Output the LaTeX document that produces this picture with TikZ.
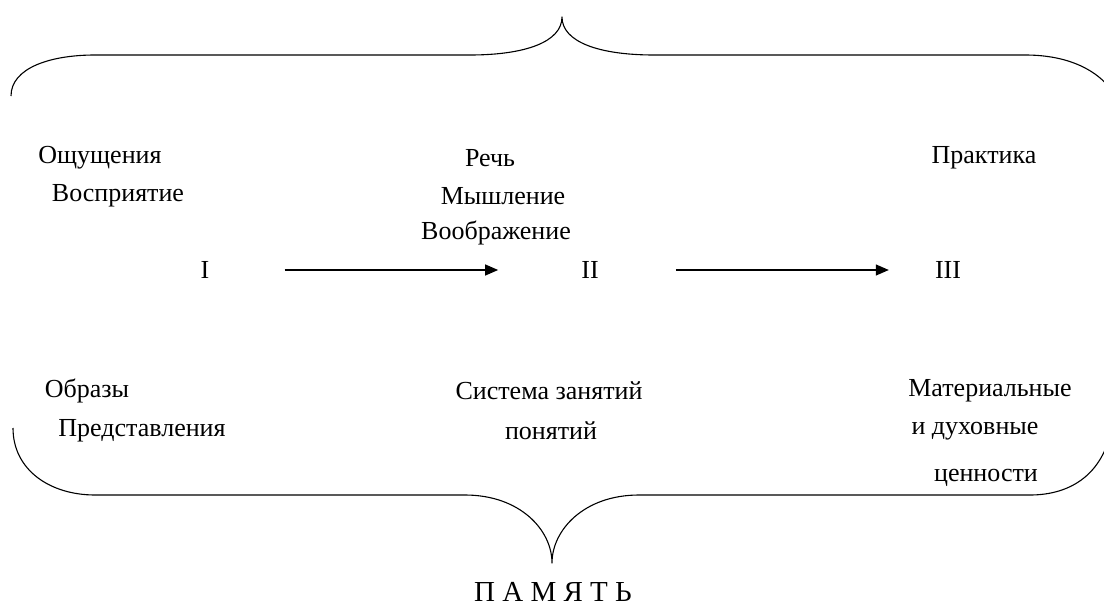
\documentclass[tikz,border=0pt]{standalone}
\usepackage{fontspec}
\setmainfont{Liberation Serif}
\usetikzlibrary{arrows.meta, positioning}

\begin{document}
\begin{tikzpicture}[x=1pt, y=-1pt]
        \useasboundingbox (0, 0) rectangle (1104, 613);

        \tikzstyle{lbl} = [inner sep=1pt, font=\fontsize{26}{30}\selectfont];
        \tikzstyle{brace} = [line width=1.1pt, line join=round];
        \tikzstyle{arr} = [line width=1.2pt, -{Triangle[length=13pt, width=11pt]}];

        % upper brace
        \draw [brace] (11, 96) .. controls (11, 68) and (50, 55) .. (95, 55)
            -- (470, 55) .. controls (525, 55) and (562, 42) .. (562, 17)
            .. controls (562, 42) and (599, 55) .. (654, 55)
            -- (1025, 55) .. controls (1062, 55) and (1092, 66) .. (1110, 88);

        % lower brace
        \draw [brace] (13, 428) .. controls (13, 470) and (50, 495) .. (95, 495)
            -- (465, 495) .. controls (520, 495) and (552, 530) .. (552, 563)
            .. controls (552, 530) and (584, 495) .. (639, 495)
            -- (1030, 495) .. controls (1070, 495) and (1100, 475) .. (1110, 435);

        % upper row
        \node [lbl] (s1) at (100, 158) {Ощущения};
        \node [lbl] (s2) at (118, 196) {Восприятие};
        \node [lbl] (r1) at (490, 158) {Речь};
        \node [lbl] (r2) at (503, 196) {Мышление};
        \node [lbl] (r3) at (496, 233) {Воображение};
        \node [lbl] (p1) at (984, 158) {Практика};

        % stages
        \node [lbl] (st1) at (205, 270) {I};
        \node [lbl] (st2) at (590, 270) {II};
        \node [lbl] (st3) at (948, 270) {III};

        \draw [arr, shorten <=74pt, shorten >=82pt] (st1) -- (st2);
        \draw [arr, shorten <=76pt, shorten >=45pt] (st2) -- (st3);

        % lower row
        \node [lbl] (o1) at (87, 391) {Образы};
        \node [lbl] (o2) at (142, 431) {Представления};
        \node [lbl] (c1) at (549, 391) {Система занятий};
        \node [lbl] (c2) at (551, 431) {понятий};
        \node [lbl] (m1) at (990, 391) {Материальные};
        \node [lbl] (m2) at (975, 431) {и духовные};
        \node [lbl] (m3) at (986, 478) {ценности};

        \node [lbl, font=\fontsize{29}{34}\selectfont] (mem) at (553, 592) {П А М Я Т Ь};
    \end{tikzpicture}
\end{document}
